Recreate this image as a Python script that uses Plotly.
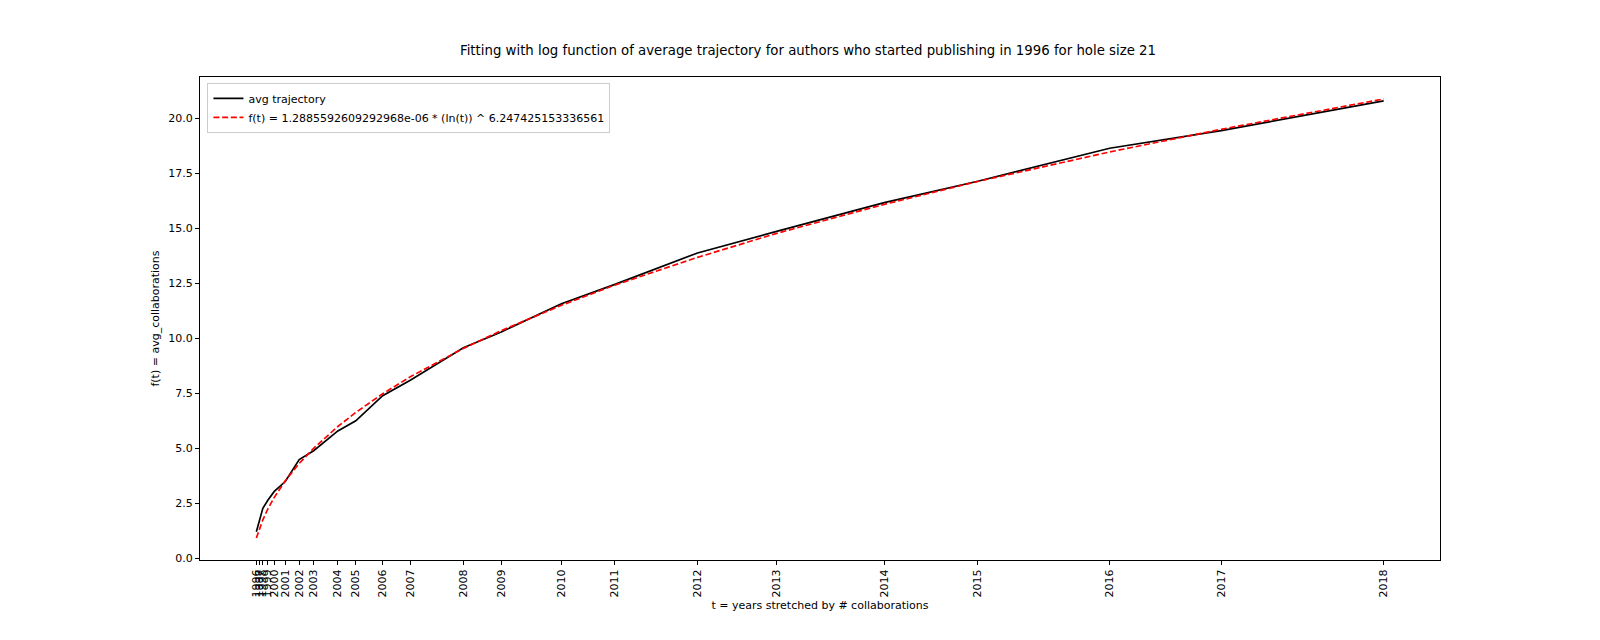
import plotly.graph_objects as go

# years used as tick labels, and the stretched x position (# collaborations) of each year
years = [1996, 1997, 1998, 1999, 2000, 2001, 2002, 2003, 2004, 2005, 2006, 2007,
         2008, 2009, 2010, 2011, 2012, 2013, 2014, 2015, 2016, 2017, 2018]
t_values = [5793, 9904, 14701, 21553, 30460, 45535, 64720, 84591, 117892, 142559,
            179560, 217520, 290562, 342637, 425409, 498041, 612606, 721416, 869419,
            998100, 1179541, 1333025, 1556400]

# average trajectory (black) and fitted curve (red dashed)
avg_trajectory = [1.22, 1.72, 2.28, 2.65, 3.05, 3.5, 4.5, 4.9, 5.8, 6.26, 7.4, 8.1,
                  9.58, 10.3, 11.58, 12.45, 13.89, 14.87, 16.18, 17.15, 18.65, 19.45, 20.8]
fit_values = [0.93, 1.35, 1.76, 2.25, 2.78, 3.53, 4.32, 5.01, 6.0, 6.64, 7.49, 8.26,
              9.55, 10.36, 11.51, 12.42, 13.69, 14.78, 16.1, 17.14, 18.48, 19.51, 20.89]

fit_label = "f(t) = 1.2885592609292968e-06 * (ln(t)) ^ 6.247425153336561"
title = ("Fitting with log function of average trajectory for authors who started "
         "publishing in 1996 for hole size 21")

# matplotlib-like 5% margins around the data
x_lo, x_hi = min(t_values), max(t_values)
x_pad = 0.05 * (x_hi - x_lo)
all_y = avg_trajectory + fit_values
y_lo, y_hi = min(all_y), max(all_y)
y_pad = 0.05 * (y_hi - y_lo)

fig = go.Figure()

fig.add_trace(go.Scatter(
    x=t_values, y=avg_trajectory,
    mode='lines',
    line=dict(color='black', width=1.67),
    name='avg trajectory'
))

fig.add_trace(go.Scatter(
    x=t_values, y=fit_values,
    mode='lines',
    line=dict(color='red', width=1.67, dash='6px,2.7px'),
    name=fit_label
))

# the page body adds an 8px offset, so margins are shifted to compensate
fig.update_layout(
    width=1600, height=640,
    margin=dict(l=192, r=168, t=69, b=88),
    paper_bgcolor='white',
    plot_bgcolor='white',
    font=dict(family='DejaVu Sans', size=11, color='black'),
    title=dict(text=title, x=0.5, xanchor='center', y=0.934, yanchor='middle',
               font=dict(size=13.3, color='black')),
    showlegend=True,
    legend=dict(
        x=0.006, y=0.988, xanchor='left', yanchor='top',
        bgcolor='rgba(255,255,255,0.8)',
        bordercolor='#cccccc', borderwidth=1,
        font=dict(size=11),
        tracegroupgap=0,
        itemwidth=30,
    ),
    xaxis=dict(
        range=[x_lo - x_pad, x_hi + x_pad],
        tickvals=t_values,
        ticktext=[str(y) for y in years],
        tickangle=-90,
        ticks='outside', ticklen=4, tickcolor='black',
        showline=True, linecolor='black', linewidth=1, mirror=True,
        showgrid=False, zeroline=False,
        title=dict(text='t = years stretched by # collaborations', standoff=4,
                   font=dict(size=11)),
    ),
    yaxis=dict(
        range=[y_lo - y_pad, y_hi + y_pad],
        dtick=2.5, tick0=0, tickformat='.1f',
        ticks='outside', ticklen=4, tickcolor='black',
        showline=True, linecolor='black', linewidth=1, mirror=True,
        showgrid=False, zeroline=False,
        title=dict(text='f(t) = avg_collaborations', standoff=6,
                   font=dict(size=11)),
    ),
)

fig.write_html("out.html")
